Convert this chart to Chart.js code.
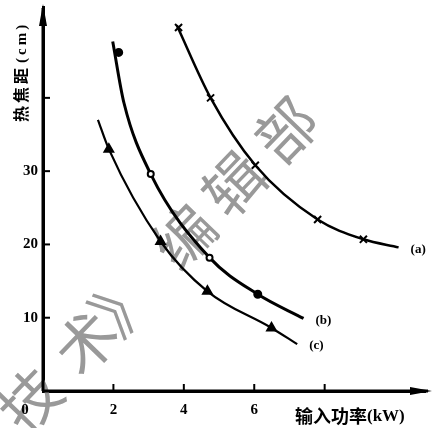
<!DOCTYPE html>
<html>
<head>
<meta charset="utf-8">
<script src="https://cdn.jsdelivr.net/npm/chart.js@4/dist/chart.umd.min.js"></script>
<style>
  html, body { margin: 0; padding: 0; background: #fff; }
  #wrap { width: 435px; height: 428px; }
</style>
</head>
<body>
<div id="wrap"><canvas id="focusChart"></canvas></div>
<script>
// curve (a)
const curveA = [[3.8, 49.9], [4.76, 40], [6.03, 30.8], [7.8, 23.4], [9.1, 20.7], [10.1, 19.6]];
const markA = [[3.85, 49.6], [4.76, 40], [6.03, 30.8], [7.8, 23.4], [9.1, 20.7]];
// curve (b)
const curveB = [[1.98, 47.7], [2.3, 39.3], [3.06, 29.6], [4.73, 18.2], [6.1, 13.2], [7.4, 9.9]];
const markB = [[3.06, 29.6], [4.73, 18.2]];
const markBFilled = [[2.15, 46.2], [6.1, 13.2]];
// curve (c)
const curveC = [[1.56, 37], [1.87, 33], [3.34, 20.4], [4.67, 13.6], [6.49, 8.6], [7.22, 6.4]];
const markC = [[1.87, 33], [3.34, 20.4], [4.67, 13.6], [6.49, 8.6]];

const curveNames = ['(a)', '(b)', '(c)'];
const xTicks = [0, 2, 4, 6, 8];
const xLabeled = [2, 4, 6];
const yTicks = [10, 20, 30, 40];
const yLabeled = [10, 20, 30];
const xMax = 10.85, yMax = 52.4;

// watermark characters and their centres (pixels)
const wmChars = ['技', '术', '》', '编', '辑', '部'];
const wmPos = [[30, 400], [86, 342], [124, 302], [184, 236], [234, 184], [286, 130]];

const pts = arr => arr.map(p => ({ x: p[0], y: p[1] }));

const serif = "'Liberation Serif', 'DejaVu Serif', serif";
const cjk = "'Noto Sans CJK SC', sans-serif";

const overlay = {
    id: 'overlay',
    beforeDatasetsDraw(chart) {
        const c = chart.ctx;
        c.save();
        c.fillStyle = '#999';
        c.font = '60px ' + cjk;
        c.textAlign = 'center';
        c.textBaseline = 'middle';
        wmChars.forEach((ch, i) => {
            c.save();
            c.translate(wmPos[i][0], wmPos[i][1]);
            c.rotate(-46 * Math.PI / 180);
            c.fillText(ch, 0, 0);
            c.restore();
        });
        c.restore();
    },
    afterDraw(chart) {
        const c = chart.ctx;
        const a = chart.chartArea;
        const xs = chart.scales.x, ys = chart.scales.y;
        c.save();
        c.strokeStyle = '#000';
        c.fillStyle = '#000';
        c.lineWidth = 3;
        // axis extensions + arrows
        c.beginPath();
        c.moveTo(a.left, a.bottom);
        c.lineTo(428, a.bottom);
        c.moveTo(a.left, a.bottom);
        c.lineTo(a.left, 8);
        c.stroke();
        c.beginPath();
        c.moveTo(a.left, 4); c.lineTo(a.left - 4, 26); c.lineTo(a.left + 4, 26); c.closePath();
        c.fill();
        c.beginPath();
        c.moveTo(432, a.bottom); c.lineTo(410, a.bottom - 4); c.lineTo(410, a.bottom + 4); c.closePath();
        c.fill();
        // inward tick marks
        c.lineWidth = 2;
        xTicks.slice(1).forEach(v => {
            const px = xs.getPixelForValue(v);
            c.beginPath(); c.moveTo(px, a.bottom); c.lineTo(px, a.bottom - 7); c.stroke();
        });
        yTicks.forEach(v => {
            const py = ys.getPixelForValue(v);
            c.beginPath(); c.moveTo(a.left, py); c.lineTo(a.left + 7, py); c.stroke();
        });
        // origin label
        c.font = 'bold 15px ' + serif;
        c.textAlign = 'center';
        c.textBaseline = 'middle';
        c.fillText('0', 25, 410);
        // curve labels
        c.font = 'bold 13px ' + serif;
        c.textAlign = 'left';
        [curveA, curveB, curveC].forEach((cv, i) => {
            const end = cv[cv.length - 1];
            const px = xs.getPixelForValue(end[0]), py = ys.getPixelForValue(end[1]);
            c.fillText(curveNames[i], px + 12, py + 2);
        });
        // axis titles
        c.font = 'bold 18px ' + cjk;
        c.textAlign = 'left';
        c.fillText('输入功率', 295, 416);
        const w = c.measureText('输入功率').width;
        c.font = 'bold 17px ' + serif;
        c.fillText('(kW)', 295 + w, 417);
        c.save();
        c.translate(21, 122);
        c.rotate(-Math.PI / 2);
        c.textAlign = 'left';
        c.letterSpacing = '3px';
        c.font = 'bold 16px ' + cjk;
        c.fillText('热焦距', 0, 0);
        const w2 = c.measureText('热焦距').width;
        c.font = 'bold 15px ' + serif;
        c.fillText('(cm)', w2 + 2, 1);
        c.restore();
        c.restore();
    }
};

const lineDs = (data, w) => ({
    type: 'line', data: pts(data), borderColor: '#000', borderWidth: w,
    pointRadius: 0, cubicInterpolationMode: 'monotone', fill: false, order: 2
});
const markDs = (data, style, r, fill) => ({
    type: 'scatter', data: pts(data), pointStyle: style, pointRadius: r,
    borderColor: '#000', backgroundColor: fill, borderWidth: 2, order: 1
});

new Chart(document.getElementById('focusChart').getContext('2d'), {
    data: {
        datasets: [
            lineDs(curveA, 2.5),
            lineDs(curveB, 3),
            lineDs(curveC, 2.2),
            markDs(markA, 'crossRot', 5, '#000'),
            markDs(markB, 'circle', 3, '#fff'),
            markDs(markBFilled, 'circle', 3.5, '#000'),
            markDs(markC, 'triangle', 5, '#000')
        ]
    },
    options: {
        responsive: true,
        maintainAspectRatio: false,
        animation: false,
        layout: { padding: { left: 0, top: 5, right: 10, bottom: 0 } },
        plugins: { legend: { display: false }, tooltip: { enabled: false } },
        scales: {
            x: {
                type: 'linear', min: 0, max: xMax,
                afterFit(s) { s.height = 37; s.paddingLeft = 0; s.paddingRight = 0; },
                afterBuildTicks(s) { s.ticks = xTicks.map(v => ({ value: v })); },
                grid: { drawOnChartArea: false, drawTicks: false },
                border: { color: '#000', width: 3 },
                ticks: {
                    padding: 10, color: '#000', maxRotation: 0,
                    font: { family: serif, size: 15, weight: 'bold' },
                    callback: v => xLabeled.includes(v) ? String(v) : ''
                }
            },
            y: {
                type: 'linear', min: 0, max: yMax,
                afterFit(s) { s.width = 43; s.paddingTop = 0; s.paddingBottom = 0; },
                afterBuildTicks(s) { s.ticks = yTicks.map(v => ({ value: v })); },
                grid: { drawOnChartArea: false, drawTicks: false },
                border: { color: '#000', width: 3 },
                ticks: {
                    padding: 5, color: '#000',
                    font: { family: serif, size: 15, weight: 'bold' },
                    callback: v => yLabeled.includes(v) ? String(v) : ''
                }
            }
        }
    },
    plugins: [overlay]
});
</script>
</body>
</html>
